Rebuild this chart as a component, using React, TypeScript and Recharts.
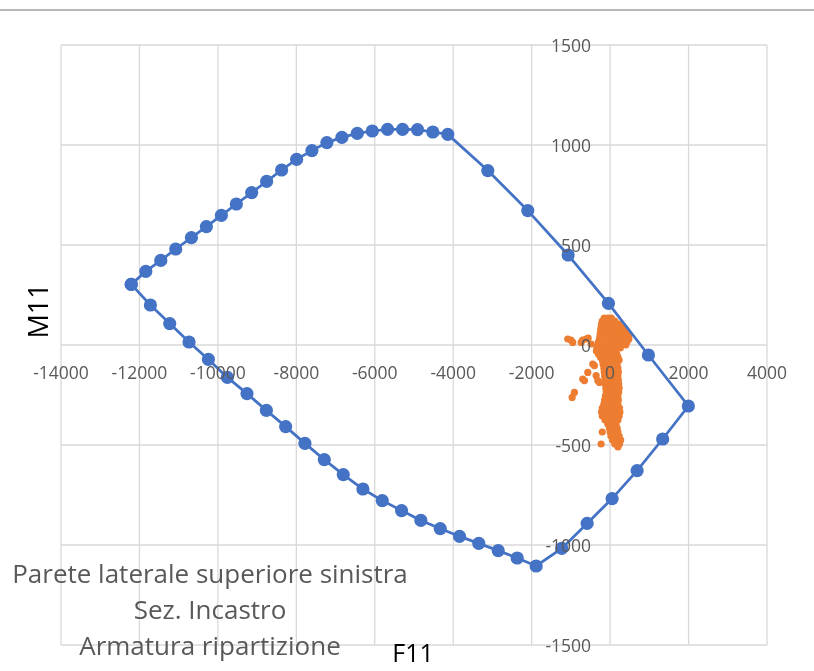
import { CartesianGrid, Scatter, ScatterChart, XAxis, YAxis } from "recharts";

// interaction domain boundary (F11, M11), closed polygon
const domainPoints: [number, number][] = [
    [-12210, 303], [-11838, 368], [-11456, 423], [-11075, 480], [-10675, 537],
    [-10293, 592], [-9911, 648], [-9529, 705], [-9139, 762], [-8757, 818],
    [-8375, 875], [-7993, 928], [-7603, 972], [-7221, 1012], [-6838, 1038],
    [-6446, 1058], [-6064, 1070], [-5674, 1078], [-5292, 1078], [-4910, 1077],
    [-4520, 1065], [-4138, 1053], [-3118, 872], [-2099, 672], [-1070, 450],
    [-43, 208], [976, -50], [1995, -305], [1340, -470], [688, -628],
    [51, -768], [-586, -892], [-1233, -1017], [-1885, -1105], [-2369, -1065],
    [-2853, -1028], [-3348, -992], [-3839, -957], [-4331, -918], [-4825, -877],
    [-5317, -828], [-5809, -778], [-6303, -720], [-6803, -648], [-7287, -573],
    [-7781, -492], [-8272, -408], [-8764, -327], [-9258, -243], [-9758, -162],
    [-10242, -72], [-10736, 15], [-11228, 107], [-11720, 200], [-12210, 303],
];

// acting load combinations
const loadPoints: [number, number][] = [
    [-150, 135], [-50, 135], [30, 135],
    [-200, 120], [-80, 120], [40, 120], [120, 120],
    [-220, 105], [-100, 105], [20, 105], [130, 105], [220, 105],
    [-230, 90], [-110, 90], [10, 90], [140, 90], [260, 90], [330, 90],
    [-240, 75], [-120, 75], [0, 75], [120, 75], [240, 75], [360, 75], [400, 75],
    [-250, 60], [-130, 60], [-10, 60], [110, 60], [230, 60], [350, 60], [440, 60],
    [-260, 45], [-140, 45], [-20, 45], [100, 45], [220, 45], [340, 45], [470, 45],
    [-270, 30], [-150, 30], [-30, 30], [90, 30], [210, 30], [330, 30], [480, 30],
    [-300, 15], [-180, 15], [-60, 15], [70, 15], [190, 15], [310, 15], [430, 15],
    [-320, 0], [-200, 0], [-80, 0], [50, 0], [170, 0], [290, 0], [400, 0],
    [-340, -15], [-220, -15], [-100, -15], [30, -15], [150, -15], [260, -15],
    [-350, -30], [-230, -30], [-110, -30], [20, -30], [140, -30],
    [-300, -45], [-190, -45], [-70, -45], [60, -45], [170, -45],
    [-250, -60], [-130, -60], [-10, -60], [110, -60], [200, -60],
    [-200, -75], [-90, -75], [30, -75], [150, -75], [230, -75],
    [-180, -95], [-60, -95], [60, -95], [180, -95],
    [-160, -115], [-40, -115], [80, -115], [200, -115],
    [-150, -135], [-30, -135], [90, -135], [210, -135],
    [-140, -155], [-20, -155], [100, -155], [200, -155],
    [-130, -175], [-10, -175], [110, -175], [210, -175],
    [-120, -195], [0, -195], [120, -195], [220, -195],
    [-110, -215], [10, -215], [130, -215], [230, -215],
    [-100, -235], [20, -235], [140, -235], [220, -235],
    [-120, -255], [0, -255], [120, -255], [200, -255],
    [-140, -275], [-20, -275], [100, -275], [210, -275],
    [-160, -295], [-40, -295], [80, -295], [200, -295],
    [-200, -315], [-80, -315], [40, -315], [160, -315], [240, -315],
    [-220, -335], [-100, -335], [20, -335], [140, -335], [250, -335],
    [-200, -355], [-90, -355], [30, -355], [150, -355], [230, -355],
    [-130, -375], [-20, -375], [100, -375], [200, -375],
    [-60, -395], [50, -395], [150, -395],
    [-20, -415], [90, -415], [180, -415],
    [-200, -435], [0, -435], [100, -435], [200, -435],
    [20, -455], [130, -455], [230, -455],
    [60, -475], [180, -475], [270, -475],
    [-230, -495], [120, -495], [240, -495],
    [200, -510],
    [-1080, 30], [-1000, 25], [-953, 13], [-739, 13], [-700, 25], [-612, 30],
    [-560, 35], [-484, 5], [-443, -95], [-400, -103], [-570, -137], [-655, -178],
    [-698, -170], [-357, -153], [-315, -178], [-272, -187], [-910, -237], [-968, -262],
];

const xTicks = [-14000, -12000, -10000, -8000, -6000, -4000, -2000, 0, 2000, 4000];
const yTicks = [-1500, -1000, -500, 0, 500, 1000, 1500];

const W = 806;
const H = 655;
const Y_AXIS_W = 40;
const X_AXIS_H = 18;
const M = { top: 37, right: 47, bottom: 0, left: 53 - Y_AXIS_W };
const PLOT_LEFT = 53;
const PLOT_W = W - PLOT_LEFT - M.right;
const PLOT_H = H - M.top - X_AXIS_H;
// where the axes cross (value 0 on both)
const ZERO_X = PLOT_LEFT + (PLOT_W * 14000) / 18000;
const ZERO_Y = M.top + PLOT_H / 2;

const FONT = "'Open Sans', 'Noto Sans', sans-serif";
const GREY = "#595959";

const toRows = (pts: [number, number][]) => pts.map(([x, y]) => ({ x, y }));

function XTick(props: any) {
    return (
        <text x={props.x} y={ZERO_Y + 34} textAnchor="middle" fontSize={17.5} fontFamily={FONT} fill={GREY}>
            {props.payload.value}
        </text>
    );
}

function YTick(props: any) {
    return (
        <text x={ZERO_X - 19} y={props.y + 6.5} textAnchor="end" fontSize={17.5} fontFamily={FONT} fill={GREY}>
            {props.payload.value}
        </text>
    );
}

export default function App() {
    return (
        <div style={{ position: "relative", width: W, height: H }}>
            <div style={{ position: "fixed", left: 0, top: 9, width: 814, height: 2, background: "#b8b8b8" }} />
            <ScatterChart width={W} height={H} margin={M}>
                <CartesianGrid stroke="#d9d9d9" strokeWidth={1.3} />
                <XAxis
                    type="number"
                    dataKey="x"
                    domain={[-14000, 4000]}
                    ticks={xTicks}
                    interval={0}
                    height={X_AXIS_H}
                    axisLine={false}
                    tickLine={false}
                    tick={<XTick />}
                />
                <YAxis
                    type="number"
                    dataKey="y"
                    domain={[-1500, 1500]}
                    ticks={yTicks}
                    interval={0}
                    width={Y_AXIS_W}
                    axisLine={false}
                    tickLine={false}
                    tick={<YTick />}
                />
                <Scatter
                    data={toRows(loadPoints)}
                    isAnimationActive={false}
                    shape={(p: any) => <circle cx={p.cx} cy={p.cy} r={3.6} fill="#ED7D31" />}
                />
                <Scatter
                    data={toRows(domainPoints)}
                    isAnimationActive={false}
                    line={{ stroke: "#4472C4", strokeWidth: 2.75 }}
                    lineType="joint"
                    shape={(p: any) => <circle cx={p.cx} cy={p.cy} r={6.6} fill="#4472C4" />}
                />
            </ScatterChart>
            <svg
                width={W}
                height={H}
                style={{ position: "absolute", left: 0, top: 0, pointerEvents: "none", overflow: "visible" }}
            >
                <text
                    x={29}
                    y={303}
                    transform="rotate(-90, 29, 303)"
                    textAnchor="middle"
                    dominantBaseline="central"
                    fontSize={27}
                    fontFamily={FONT}
                    fill="#000"
                >
                    M11
                </text>
                <text x={405} y={654} textAnchor="middle" fontSize={25} fontFamily={FONT} fill="#000">
                    F11
                </text>
                <g fontSize={26} fontFamily={FONT} fill={GREY} textAnchor="middle">
                    <text x={202} y={575}>Parete laterale superiore sinistra</text>
                    <text x={202} y={611}>Sez. Incastro</text>
                    <text x={202} y={647}>Armatura ripartizione</text>
                </g>
            </svg>
        </div>
    );
}
